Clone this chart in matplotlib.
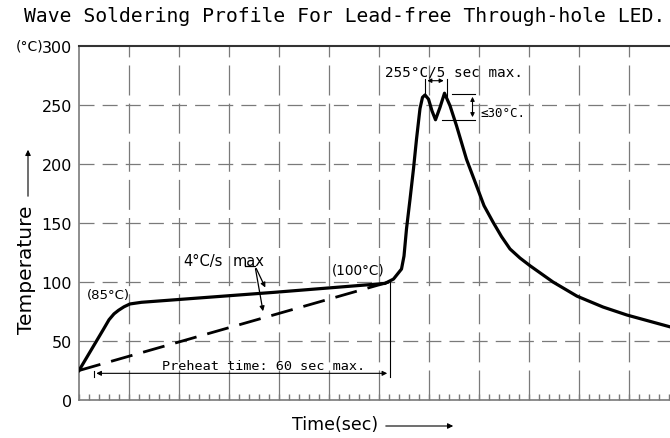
import matplotlib as mpl
import matplotlib.pyplot as plt

# Profile (seconds, deg C)
time_s = [0, 4.9, 6.0, 7.0, 7.9, 9.0, 10.2, 12.5, 39.2, 61.2, 62.9, 64.5, 65.0, 65.5,
          66.2, 66.9, 67.5, 68.2, 68.7, 69.2, 69.9, 70.6, 71.3, 72.2, 73.1, 74.2,
          75.5, 77.5, 79.5, 81.0, 82.8, 84.5, 86.2, 88.2, 90.2, 94.8, 99.6, 104.8,
          109.6, 118.2]
temp_c = [25, 60, 68, 73, 76, 79, 81.4, 82.8, 91.3, 98.8, 102.5, 111, 122, 145,
          170, 196, 221, 247, 256.5, 258.5, 255, 245, 237.5, 248, 260, 249.4,
          232.5, 204, 181.6, 164.7, 150.8, 138.5, 128, 120.3, 113.8, 100, 88, 78.8,
          72, 62]

# straight "4 C/s max" preheat limit
ramp_time = [0, 62]
ramp_temp = [25, 100]

y_ticks = [0, 50, 100, 150, 200, 250, 300]
y_labels = ['0', '50', '100', '150', '200', '250', '300']

mpl.rcParams['font.family'] = 'DejaVu Sans'
mono = 'DejaVu Sans Mono'

fig = plt.figure(figsize=(6.7, 4.39), dpi=100)
ax = fig.add_axes([79/670, 1-401/439, 591/670, 354/439])

grid_col = '#7a7a7a'
ax.set_xlim(0, 118.2)
ax.set_ylim(0, 300)

for t in range(10, 120, 10):
    ax.axvline(t, color=grid_col, lw=0.9, dashes=(24, 6.5), zorder=1)
for v in y_ticks[1:-1]:
    ax.axhline(v, color=grid_col, lw=0.9, dashes=(12, 6.5), zorder=1)

ax.set_xticks(range(0, 120, 10))
ax.set_xticks(range(0, 119, 2), minor=True)
ax.set_xticklabels([])
ax.tick_params(axis='x', which='both', direction='in', length=4, color=grid_col, width=1)
ax.set_yticks(y_ticks)
ax.set_yticklabels(y_labels, fontsize=11.5)
ax.tick_params(axis='y', length=0, pad=5)
# unit prefix in front of the 300 label
fig.text(43/670, 1-47/439, '(°C)', fontsize=10,
         ha='right', va='center')

for s in ['left', 'bottom']:
    ax.spines[s].set_color(grid_col)
    ax.spines[s].set_linewidth(1.2)
ax.spines['top'].set_color('#333333')
ax.spines['top'].set_linewidth(1.5)
ax.spines['right'].set_visible(False)

ax.plot(time_s, temp_c, color='black', lw=2.3, zorder=3, solid_joinstyle='round')
ax.plot(ramp_time, ramp_temp, color='black', lw=2.0, dashes=(8, 4), zorder=3)

ax.text(1.5, 89.8, '(85°C)', fontsize=9.5, va='center')
ax.text(50.5, 111, '(100°C)', fontsize=9.8, va='center')
ax.text(20.8, 118.6, '4°C/s', fontsize=10.5, va='center')
ax.text(30.8, 118.6, 'max', fontsize=10.5, va='center')
ax.plot([33.2, 35.2], [113.6, 113.6], color='black', lw=0.9)
ax.annotate('', xy=(37.5, 93.2), xytext=(35.2, 113.6),
            arrowprops=dict(arrowstyle='-|>', lw=0.9, color='black', mutation_scale=7))
ax.annotate('', xy=(36.9, 72.9), xytext=(35.2, 113.6),
            arrowprops=dict(arrowstyle='-|>', lw=0.9, color='black', mutation_scale=7))

# preheat dimension
ax.plot([2.9, 2.9], [19.5, 24.6], color='black', lw=0.8)
ax.plot([62.2, 62.2], [19.5, 100], color='black', lw=0.8)
ax.annotate('', xy=(2.9, 22.6), xytext=(62.2, 22.6),
            arrowprops=dict(arrowstyle='<|-|>', lw=0.8, color='black', mutation_scale=7))
ax.text(36.9, 29, 'Preheat time: 60 sec max.', fontsize=9.7, family=mono,
        ha='center', va='center')

# peak dimensions
ax.plot([69.1, 69.1], [257.9, 272], color='black', lw=0.8)
ax.plot([73.5, 73.5], [257.9, 272], color='black', lw=0.8)
ax.annotate('', xy=(69.1, 270.6), xytext=(73.5, 270.6),
            arrowprops=dict(arrowstyle='<|-|>', lw=0.8, color='black', mutation_scale=6))
ax.text(61.2, 278.6, '255°C/5 sec max.', fontsize=10.3, family=mono, va='center')
ax.plot([74.5, 79.2], [259.3, 259.3], color='black', lw=0.8)
ax.plot([72.5, 79.2], [237.3, 237.3], color='black', lw=0.8)
ax.annotate('', xy=(78.7, 259.3), xytext=(78.7, 237.3),
            arrowprops=dict(arrowstyle='<|-|>', lw=0.8, color='black', mutation_scale=6))
ax.text(80.2, 243.8, '≤30°C.', fontsize=9, family=mono, va='center')

# title and axis captions
fig.text(344.5/670, 1-17/439, 'Wave Soldering Profile For Lead-free Through-hole LED.',
         fontsize=14.2, family=mono, ha='center', va='center')
fig.text(26/670, 1-270/439, 'Temperature', fontsize=14.5, rotation=90,
         ha='center', va='center')
fig.patches.append(mpl.patches.FancyArrowPatch((28/670, 1-200/439), (28/670, 1-148/439),
                   transform=fig.transFigure, arrowstyle='-|>', mutation_scale=8,
                   lw=0.8, color='black'))
fig.text(335/670, 1-425/439, 'Time(sec)', fontsize=12.5, ha='center', va='center')
fig.patches.append(mpl.patches.FancyArrowPatch((383/670, 1-427/439), (456/670, 1-427/439),
                   transform=fig.transFigure, arrowstyle='-|>', mutation_scale=8,
                   lw=0.8, color='black'))

plt.savefig('out.png', dpi=100)
plt.close(fig)
